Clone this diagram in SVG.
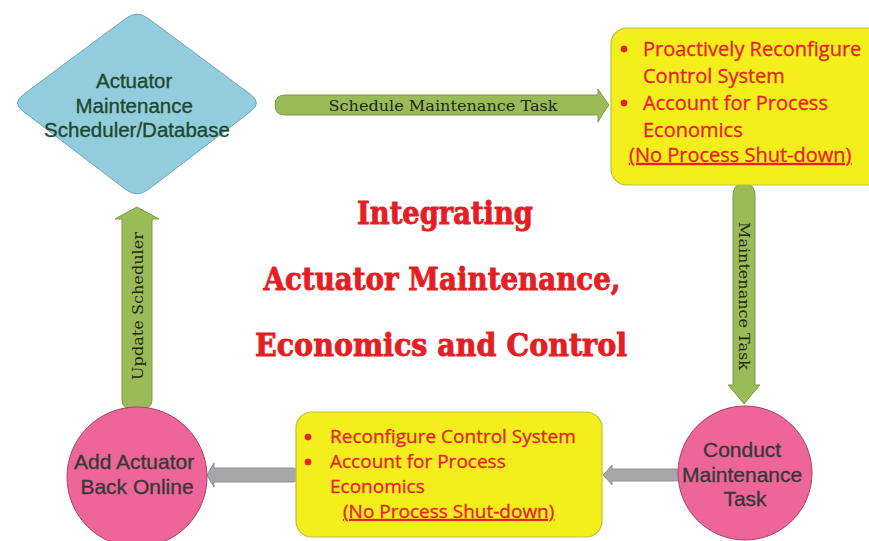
<svg xmlns="http://www.w3.org/2000/svg" width="869" height="541" viewBox="0 0 869 541">
  <style>
    .green-arrow { fill: #9BBB59; stroke: #7E9C45; stroke-width: 1; }
    .gray-arrow { fill: #A6A7A9; stroke: #8E8F91; stroke-width: 1; }
    .flow-label { font-family: "DejaVu Serif", "Liberation Serif", serif; font-size: 15.5px; fill: #1E2A14; text-anchor: middle; }
    .node-text { font-family: "Liberation Sans", "Open Sans", sans-serif; text-anchor: middle; stroke-width: 0.35; }
    .note-box { fill: #F3EE1C; stroke: #B9C23A; stroke-width: 1.2; }
    .note-text { font-family: "Open Sans", "Noto Sans", "Liberation Sans", sans-serif; fill: #E8202A; stroke: #E8202A; stroke-width: 0.3; }
    .circle-node { fill: #EE6699; stroke: #A04468; stroke-width: 1; }
    .title { font-family: "DejaVu Serif", "Liberation Serif", serif; font-weight: bold; font-size: 31px; fill: #E31E24; stroke: #E31E24; stroke-width: 0.9; text-anchor: middle; }
  </style>

  <rect width="869" height="541" fill="#FFFFFF"/>

  <!-- connectors -->
  <g id="connectors">
    <!-- scheduler to proactive reconfiguration -->
    <path class="green-arrow" d="M285,95 L598,95 L598,89 Q603,97 609,105 Q603,113 598,122 L598,115 L285,115 Q275,115 275,105 Q275,95 285,95 Z"/>
    <text class="flow-label" x="443" y="111" textLength="229" lengthAdjust="spacingAndGlyphs">Schedule Maintenance Task</text>

    <!-- down to conduct maintenance -->
    <path class="green-arrow" d="M733,195 Q733,184 744,184 Q755,184 755,195 L755,385 L760,385 Q752,394 744,404 Q736,394 728,385 L733,385 Z"/>
    <text class="flow-label" transform="translate(739,296) rotate(90)" x="0" y="0" textLength="148" lengthAdjust="spacingAndGlyphs">Maintenance Task</text>

    <!-- conduct maintenance to reconfigure -->
    <path class="gray-arrow" d="M612,469 L676,469 Q681,469 681,475 Q681,481 676,481 L612,481 L612,485 Q608,480 603,475 Q608,470 612,465 Z"/>

    <!-- reconfigure to add actuator back online -->
    <path class="gray-arrow" d="M214,468 L293,468 Q298,468 298,475 Q298,482 293,482 L214,482 L214,487 Q210,481 207,475 Q210,469 214,463 Z"/>

    <!-- back up to scheduler -->
    <path class="green-arrow" d="M122,219 L115,219 Q126,213 137,207 Q148,213 159,219 L152,219 L152,400 Q152,410 137,410 Q122,410 122,400 Z"/>
    <text class="flow-label" transform="translate(143,306) rotate(-90)" x="0" y="0" textLength="148" lengthAdjust="spacingAndGlyphs">Update Scheduler</text>
  </g>

  <!-- scheduler / database decision node -->
  <g id="scheduler">
    <path d="M125.8,18.4 Q137,10 148.2,18.4 L250.8,94.6 Q262,103 250.8,111.4 L148.2,189.6 Q137,198 125.8,189.6 L23.2,111.4 Q12,103 23.2,94.6 Z" fill="#93CDDD" stroke="#6FA6B6" stroke-width="1"/>
    <text class="node-text" font-size="20.5" fill="#1D4A2A" stroke="#1D4A2A">
      <tspan x="137" y="88">Actuator</tspan>
      <tspan x="137" y="113">Maintenance</tspan>
      <tspan x="137" y="137">Scheduler/Database</tspan>
    </text>
  </g>

  <!-- proactive reconfiguration note -->
  <g id="proactive-reconfigure">
    <rect class="note-box" x="611" y="28" width="275" height="157" rx="16"/>
    <g class="note-text" font-size="20">
      <circle cx="624" cy="49" r="3.2"/>
      <circle cx="624" cy="103" r="3.2"/>
      <text x="643" y="56">Proactively Reconfigure</text>
      <text x="643" y="83">Control System</text>
      <text x="643" y="110">Account for Process</text>
      <text x="643" y="137">Economics</text>
      <text x="629" y="162" text-decoration="underline">(No Process Shut-down)</text>
    </g>
  </g>

  <!-- conduct maintenance task -->
  <g id="conduct-maintenance">
    <circle class="circle-node" cx="745" cy="473" r="67"/>
    <text class="node-text" font-size="21" fill="#383838" stroke="#383838">
      <tspan x="745" y="457">Conduct</tspan>
      <tspan x="745" y="482">Maintenance</tspan>
      <tspan x="745" y="506">Task</tspan>
    </text>
  </g>

  <!-- reconfigure note -->
  <g id="reconfigure">
    <rect class="note-box" x="296" y="412" width="306" height="125" rx="16"/>
    <g class="note-text" font-size="19">
      <circle cx="308" cy="437" r="3.2"/>
      <circle cx="308" cy="462" r="3.2"/>
      <text x="330" y="443">Reconfigure Control System</text>
      <text x="330" y="468">Account for Process</text>
      <text x="330" y="493">Economics</text>
      <text x="343" y="518" text-decoration="underline">(No Process Shut-down)</text>
    </g>
  </g>

  <!-- add actuator back online -->
  <g id="add-actuator">
    <circle class="circle-node" cx="137" cy="477" r="70"/>
    <text class="node-text" font-size="21" fill="#383838" stroke="#383838">
      <tspan x="137" y="469">Add Actuator</tspan>
      <tspan x="137" y="494">Back Online</tspan>
    </text>
  </g>

  <!-- central heading -->
  <g id="heading">
    <text class="title" x="445" y="224" textLength="176" lengthAdjust="spacingAndGlyphs">Integrating</text>
    <text class="title" x="442" y="290" textLength="357" lengthAdjust="spacingAndGlyphs">Actuator Maintenance,</text>
    <text class="title" x="441" y="356" textLength="372" lengthAdjust="spacingAndGlyphs">Economics and Control</text>
  </g>
</svg>
